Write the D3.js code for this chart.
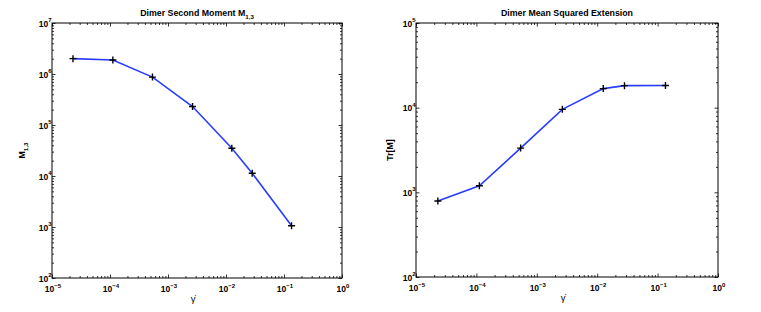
<!DOCTYPE html>
<html>
<head>
<meta charset="utf-8">
<script src="https://cdn.jsdelivr.net/npm/d3@7"></script>
<style>
  body { margin: 0; background: #fff; }
  svg text { font-family: "Liberation Sans", Arial, Helvetica, sans-serif; fill: #000; }
</style>
</head>
<body>
<script>
const SVG_WIDTH = 761;
const SVG_HEIGHT = 312;

// shear rates, shared by both panels
const gammaDot = [2.3e-5, 1.12e-4, 5.4e-4, 2.65e-3, 1.26e-2, 2.83e-2, 0.135];
// second moment M_1,3
const secondMoment = [2.0e6, 1.88e6, 8.7e5, 2.3e5, 3.5e4, 1.13e4, 1.06e3];
// mean squared extension Tr[M]
const meanSqExt = [790, 1195, 3330, 9550, 16800, 18200, 18250];

const xDecades = [-5, -4, -3, -2, -1, 0];
const leftDecades = [2, 3, 4, 5, 6, 7];
const rightDecades = [2, 3, 4, 5];

const MAJOR = 3.5;
const MINOR = 2;

const svg = d3
    .select("body")
    .append("svg")
    .attr("width", SVG_WIDTH)
    .attr("height", SVG_HEIGHT);

const minorTicks = (lo, hi) => {
    const out = [];
    for (let e = lo; e < hi; e++) {
        for (let m = 2; m <= 9; m++) out.push(m * Math.pow(10, e));
    }
    return out;
};

const powerLabel = (sel, exp) => {
    sel.append("tspan").text("10");
    sel.append("tspan")
        .attr("dy", -4.5)
        .attr("font-size", 6)
        .text(exp < 0 ? "\u2212" + (-exp) : exp);
};

const drawPanel = opts => {
    const { left, right, top, bottom, yDecades, values, title, titleSub, yLabel, yLabelSub, yLabelOff } = opts;

    const x = d3.scaleLog()
        .domain([1e-5, 1])
        .range([left, right]);

    const y = d3.scaleLog()
        .domain([Math.pow(10, yDecades[0]), Math.pow(10, yDecades[yDecades.length - 1])])
        .range([bottom, top]);

    const g = svg.append("g");

    const xMajor = xDecades.map(e => Math.pow(10, e));
    const yMajor = yDecades.map(e => Math.pow(10, e));
    const xMinor = minorTicks(xDecades[0], xDecades[xDecades.length - 1]);
    const yMinor = minorTicks(yDecades[0], yDecades[yDecades.length - 1]);

    const axes = [
        { axis: d3.axisBottom(x), ty: bottom, tx: 0, maj: xMajor, min: xMinor },
        { axis: d3.axisTop(x), ty: top, tx: 0, maj: xMajor, min: xMinor },
        { axis: d3.axisLeft(y), ty: 0, tx: left, maj: yMajor, min: yMinor },
        { axis: d3.axisRight(y), ty: 0, tx: right, maj: yMajor, min: yMinor },
    ];

    // ticks point inward, so negative sizes
    axes.forEach(a => {
        g.append("g")
            .attr("transform", `translate(${a.tx},${a.ty})`)
            .call(a.axis.tickValues(a.min).tickSizeInner(-MINOR).tickSizeOuter(0).tickFormat(""))
            .call(s => s.select(".domain").remove())
            .selectAll("line").attr("stroke", "#000").attr("stroke-width", 0.8);
        g.append("g")
            .attr("transform", `translate(${a.tx},${a.ty})`)
            .call(a.axis.tickValues(a.maj).tickSizeInner(-MAJOR).tickSizeOuter(0).tickFormat(""))
            .call(s => s.select(".domain").remove())
            .selectAll("line").attr("stroke", "#000").attr("stroke-width", 0.8);
    });

    // box
    g.append("rect")
        .attr("x", left)
        .attr("y", top)
        .attr("width", right - left)
        .attr("height", bottom - top)
        .attr("fill", "none")
        .attr("stroke", "#000")
        .attr("stroke-width", 1);

    // x tick labels
    g.selectAll(".xlab")
        .data(xDecades)
        .enter()
        .append("text")
        .attr("class", "xlab")
        .attr("x", d => x(Math.pow(10, d)) + 1)
        .attr("y", bottom + 14)
        .attr("text-anchor", "middle")
        .attr("font-size", 8.5)
        .attr("font-weight", "bold")
        .each(function (d) { powerLabel(d3.select(this), d); });

    // y tick labels
    g.selectAll(".ylab")
        .data(yDecades)
        .enter()
        .append("text")
        .attr("class", "ylab")
        .attr("x", left - 0.5)
        .attr("y", d => y(Math.pow(10, d)) + 3.5)
        .attr("text-anchor", "end")
        .attr("font-size", 8.5)
        .attr("font-weight", "bold")
        .each(function (d) { powerLabel(d3.select(this), d); });

    // title
    const t = g.append("text")
        .attr("x", (left + right) / 2)
        .attr("y", 16)
        .attr("text-anchor", "middle")
        .attr("font-size", 8.8)
        .attr("font-weight", "bold")
        .text(title);
    if (titleSub) {
        t.append("tspan").attr("dy", 2.5).attr("font-size", 6.2).text(titleSub);
    }

    // y label
    const yl = g.append("text")
        .attr("transform", `translate(${left - yLabelOff},${(top + bottom) / 2}) rotate(-90)`)
        .attr("text-anchor", "middle")
        .attr("font-size", 8.8)
        .attr("font-weight", "bold")
        .text(yLabel);
    if (yLabelSub) {
        yl.append("tspan").attr("dy", 2.5).attr("font-size", 6.2).text(yLabelSub);
    }

    // x label
    g.append("text")
        .attr("x", (left + right) / 2 - 4)
        .attr("y", bottom + 24)
        .attr("text-anchor", "middle")
        .attr("font-size", 9.5)
        .text("\u03B3\u0307");

    // data line
    const pts = gammaDot.map((gd, i) => [gd, values[i]]);
    const line = d3.line()
        .x(d => x(d[0]))
        .y(d => y(d[1]));

    g.append("path")
        .datum(pts)
        .attr("d", line)
        .attr("fill", "none")
        .attr("stroke", "#2a3cff")
        .attr("stroke-width", 1.6);

    // plus markers
    const s = 3.5;
    g.selectAll(".marker")
        .data(pts)
        .enter()
        .append("path")
        .attr("class", "marker")
        .attr("d", d => {
            const px = x(d[0]), py = y(d[1]);
            return `M${px - s},${py}H${px + s}M${px},${py - s}V${py + s}`;
        })
        .attr("stroke", "#000")
        .attr("stroke-width", 1.4)
        .attr("fill", "none");
};

drawPanel({
    left: 52, right: 342, top: 23, bottom: 278,
    yDecades: leftDecades,
    values: secondMoment,
    title: "Dimer Second Moment M",
    titleSub: "1,3",
    yLabel: "M",
    yLabelSub: "1,3",
    yLabelOff: 27,
});

drawPanel({
    left: 416, right: 718, top: 23, bottom: 277,
    yDecades: rightDecades,
    values: meanSqExt,
    title: "Dimer Mean Squared Extension",
    titleSub: null,
    yLabel: "Tr[M]",
    yLabelSub: null,
    yLabelOff: 23,
});
</script>
</body>
</html>
